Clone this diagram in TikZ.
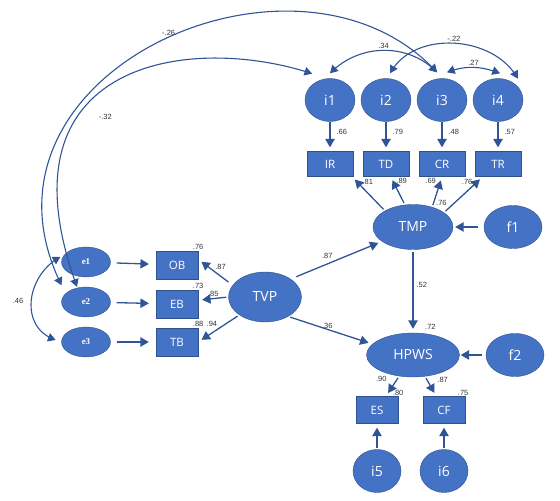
\documentclass[tikz,border=0pt]{standalone}
\usepackage{fontspec}
\setmainfont{Open Sans}
\newfontfamily\coeffont{Liberation Sans}
\newfontfamily\errfont{Liberation Serif}
\usetikzlibrary{shapes.geometric, arrows}
\definecolor{semfill}{HTML}{4472C4}
\definecolor{semedge}{HTML}{2F528F}
\definecolor{semline}{HTML}{2F5597}
\tikzstyle{construct} = [
    ellipse,
    minimum width=50pt,
    minimum height=43pt,
    inner sep=0pt,
    fill=semfill,
    draw=semedge,
    text=white,
    font=\fontsize{14}{16}\selectfont
]
\tikzstyle{indicator} = [
    rectangle,
    minimum width=46pt,
    minimum height=25pt,
    inner sep=0pt,
    fill=semfill,
    draw=semedge,
    text=white,
    font=\fontsize{11.5}{13}\selectfont
]
\tikzstyle{residual} = [
    ellipse,
    minimum width=49pt,
    minimum height=30pt,
    inner sep=0pt,
    fill=semfill,
    draw=semedge,
    text=white,
    font=\errfont\bfseries\fontsize{9}{10}\selectfont
]
\tikzstyle{coef} = [
    inner sep=1pt,
    text=black!80,
    font=\coeffont\fontsize{7.5}{8}\selectfont
]
\tikzstyle{arrow} = [semline, line width=1.3pt, ->, >=triangle 60, shorten <=2pt, shorten >=4pt]
\tikzstyle{covar} = [semline, line width=1.1pt, <->, >=triangle 60]

\begin{document}
\begin{tikzpicture}[x=1pt, y=1pt, node distance=56pt]

\useasboundingbox (0,0) rectangle (560,501);

\node (i1) [construct] at (330,401) {i1};
\node (i2) [construct, right of=i1] {i2};
\node (i3) [construct, right of=i2] {i3};
\node (i4) [construct, right of=i3] {i4};

\node (IR) [indicator, below of=i1, node distance=64pt] {IR};
\node (TD) [indicator, below of=i2, node distance=64pt] {TD};
\node (CR) [indicator, below of=i3, node distance=64pt] {CR};
\node (TR) [indicator, below of=i4, node distance=64pt] {TR};

\node (TMP) [construct, minimum width=80pt, minimum height=45pt] at (413,274) {TMP};
\node (f1) [construct, minimum width=58pt, right of=TMP, node distance=100pt] {f1};

\node (TVP) [construct, minimum width=73pt, minimum height=50pt] at (265,204) {TVP};

\node (HPWS) [construct, minimum width=93pt, minimum height=44pt, below of=TMP, node distance=128pt] {HPWS};
\node (f2) [construct, minimum width=58pt, right of=HPWS, node distance=102pt] {f2};

\node (ES) [indicator, minimum width=42pt, minimum height=27pt] at (377,91) {ES};
\node (CF) [indicator, minimum width=42pt, minimum height=27pt, right of=ES, node distance=67pt] {CF};

\node (i5) [construct, minimum width=48pt, below of=ES, node distance=61pt] {i5};
\node (i6) [construct, minimum width=48pt, below of=CF, node distance=61pt] {i6};

\node (e1) [residual] at (86,239) {e1};
\node (e2) [residual, below of=e1, node distance=40pt] {e2};
\node (e3) [residual, below of=e2, node distance=40pt] {e3};

\node (OB) [indicator, minimum width=42pt, minimum height=28pt, right of=e1, node distance=91pt, yshift=-3pt] {OB};
\node (EB) [indicator, minimum width=42pt, minimum height=28pt, right of=e2, node distance=91pt, yshift=-2pt] {EB};
\node (TB) [indicator, minimum width=42pt, minimum height=28pt, right of=e3, node distance=91pt] {TB};

\node (r2ob) [coef, above] at (OB.north east) {.76};
\node (r2eb) [coef, above] at (EB.north east) {.73};
\node (r2tb) [coef, above] at (TB.north east) {.88};
\node (r2tmp) [coef, above=4pt] at (TMP.north east) {.76};
\node (r2hpws) [coef, above right, xshift=11pt, yshift=2pt] at (HPWS.north) {.72};
\node (r2es) [coef, above] at (ES.north east) {.80};
\node (r2cf) [coef, above, xshift=-2pt] at (CF.north east) {.75};

\draw [arrow, shorten <=0pt] (i1) -- node[coef, pos=0.35, right=5pt] {.66} (IR);
\draw [arrow, shorten <=0pt] (i2) -- node[coef, pos=0.35, right=5pt] {.79} (TD);
\draw [arrow, shorten <=0pt] (i3) -- node[coef, pos=0.35, right=5pt] {.48} (CR);
\draw [arrow, shorten <=0pt] (i4) -- node[coef, pos=0.35, right=5pt] {.57} (TR);

\draw [arrow] (TMP.150) -- node[coef, pos=0.85, right=4pt] {.81} (IR.-30);
\draw [arrow] (TMP.110) -- node[coef, pos=0.85, right=2pt] {.89} (TD.-70);
\draw [arrow] (TMP.46) -- node[coef, pos=0.85, left=3pt] {.69} (CR.south);
\draw [arrow] (TMP.25) -- node[coef, pos=0.85, left=3pt] {.76} (TR.-140);
\draw [arrow, shorten <=6pt, shorten >=2pt] (f1) -- (TMP);

\draw [arrow, shorten <=6pt] (TVP.35) -- node[coef, pos=0.4, above=4pt] {.87} (TMP.205);
\draw [arrow] (TVP.-40) -- node[coef, midway, above, xshift=-3pt] {.36} (HPWS.165);
\draw [arrow] (TMP) -- node[coef, pos=0.42, right=2pt] {.52} (HPWS);
\draw [arrow, shorten <=4pt, shorten >=1pt] (f2) -- (HPWS);

\draw [arrow] (HPWS) -- node[coef, pos=0.15, left=9pt] {.90} (ES);
\draw [arrow] (HPWS) -- node[coef, pos=0.15, right=9pt] {.87} (CF);
\draw [arrow, shorten <=1pt] (i5) -- (ES);
\draw [arrow, shorten <=1pt] (i6) -- (CF);

\draw [arrow, shorten <=5pt] (TVP.160) -- node[coef, pos=0.55, above right] {.87} (OB.15);
\draw [arrow] (TVP.west) -- node[coef, midway, above] {.85} (EB.10);
\draw [arrow] (TVP.215) -- node[coef, midway, above left] {.94} (TB.east);

\draw [arrow, shorten <=6pt, shorten >=7pt] (e1) -- (OB);
\draw [arrow, shorten <=6pt, shorten >=7pt] (e2) -- (EB);
\draw [arrow, shorten <=6pt, shorten >=7pt] (e3) -- (TB);

\draw [covar, shorten <=5pt, shorten >=6pt] (e1.160) to[out=210, in=160, looseness=1.3] node[coef, left=8pt] {.46} (e3.west);
\draw [covar] ([xshift=-9pt]e2.north) .. controls +(110:240pt) and +(162:130pt) .. node[coef, pos=0.35, right=20pt] {-.32} ([yshift=11pt]i1.north west);
\draw [covar] ([shift={(-7pt,6pt)}]e2.north west) .. controls +(116:236pt) and +(133:206pt) .. node[coef, pos=0.52, above] {-.26} ([shift={(-5pt,6pt)}]i3.north);

\draw [covar] ([yshift=5pt]i1.north) to[out=45, in=135] node[coef, above] {.34} ([shift={(-5pt,6pt)}]i3.north);
\draw [covar] ([shift={(4pt,5pt)}]i2.north) to[out=60, in=120] node[coef, above] {-.22} ([shift={(2pt,6pt)}]i4.north east);
\draw [covar] ([shift={(5pt,6pt)}]i3.north) to[out=20, in=160] node[coef, above] {.27} ([shift={(2pt,5pt)}]i4.north);

\end{tikzpicture}
\end{document}
